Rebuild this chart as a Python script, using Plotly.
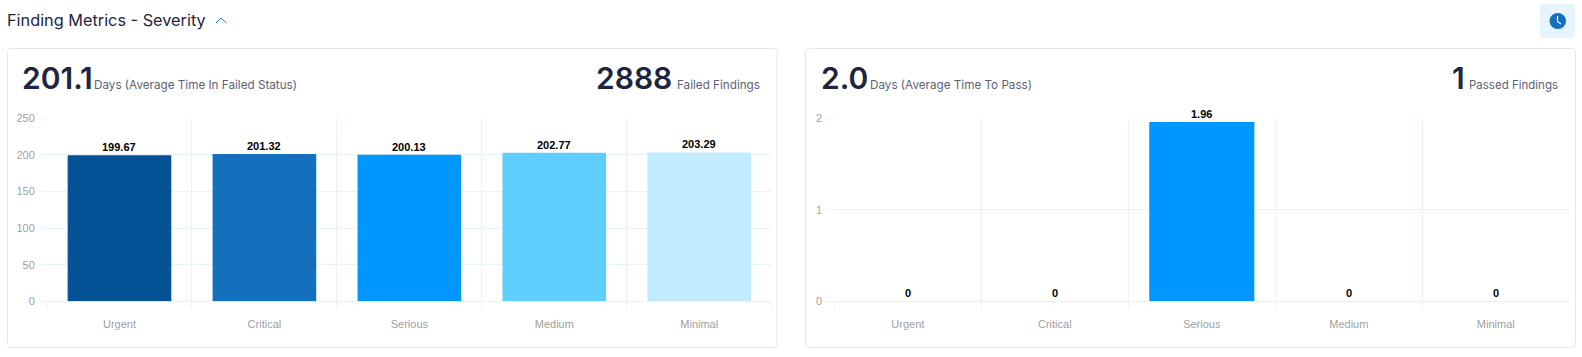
import plotly.graph_objects as go

W, H = 1582, 357
categories = ["Urgent", "Critical", "Serious", "Medium", "Minimal"]
failed_days = [199.67, 201.32, 200.13, 202.77, 203.29]
passed_days = [0, 0, 1.96, 0, 0]
colors = ["#055296", "#146fbd", "#0096ff", "#5fceff", "#c1ecff"]
GRID = "#e8f2fb"
TICK = "#a0a0a0"
DARK = "#1d2540"
SUB = "#5c6274"
HEAD = "Inter"
ARIAL = "Liberation Sans"

def px(x): return x / W
def py(y): return 1 - y / H

def fmt(v): return f"{v:g}"

fig = go.Figure()
fig.add_trace(go.Bar(x=categories, y=failed_days, marker=dict(color=colors, line=dict(width=0)),
                     xaxis="x", yaxis="y", showlegend=False))
fig.add_trace(go.Bar(x=categories, y=passed_days, marker=dict(color=colors, line=dict(width=0)),
                     xaxis="x2", yaxis="y2", showlegend=False))

def xax(a, b, anchor):
    return dict(domain=[px(a), px(b)], anchor=anchor, type="category", range=[-0.5, 4.5],
                tickson="boundaries", showgrid=True, gridcolor=GRID, gridwidth=1,
                ticks="outside", ticklen=7, tickcolor=GRID, tickwidth=1, showline=False,
                zeroline=False, ticklabelstandoff=15, automargin=False,
                tickfont=dict(family=ARIAL, size=11, color=TICK), fixedrange=True)

def yax(maxv, dtick, anchor):
    return dict(domain=[py(301.3), py(118.3)], anchor=anchor, range=[0, maxv], dtick=dtick,
                showgrid=True, gridcolor=GRID, gridwidth=1, ticks="outside", ticklen=7,
                tickcolor=GRID, tickwidth=1, showline=False, zeroline=True, zerolinecolor=GRID,
                zerolinewidth=1, ticklabelstandoff=2, automargin=False,
                tickfont=dict(family=ARIAL, size=11, color=TICK), fixedrange=True)

def rrect(x0, y0, x1, y1, r):
    P = lambda x, y: f"{px(x):.5f} {py(y):.5f}"
    return (f"M {P(x0+r,y0)} L {P(x1-r,y0)} Q {P(x1,y0)} {P(x1,y0+r)} L {P(x1,y1-r)} Q {P(x1,y1)} {P(x1-r,y1)} "
            f"L {P(x0+r,y1)} Q {P(x0,y1)} {P(x0,y1-r)} L {P(x0,y0+r)} Q {P(x0,y0)} {P(x0+r,y0)} Z")

shapes = []
for x0, x1 in [(7.5, 777), (805.5, 1575.5)]:
    shapes.append(dict(type="path", xref="paper", yref="paper", path=rrect(x0, 48.5, x1, 347.5, 4),
                       line=dict(color="#e4e7ee", width=1), fillcolor="#ffffff", layer="below"))
shapes.append(dict(type="path", xref="paper", yref="paper", path=rrect(1540, 4, 1575, 38, 4),
                   line=dict(width=0), fillcolor="#e6f4fe", layer="below"))
shapes.append(dict(type="circle", xref="paper", yref="paper", x0=px(1549.5), x1=px(1566), y0=py(29), y1=py(13),
                   line=dict(width=0), fillcolor="#146fbd"))
shapes.append(dict(type="path", xref="paper", yref="paper",
                   path=f"M {px(1557.5):.5f} {py(16):.5f} L {px(1557.5):.5f} {py(21.5):.5f} L {px(1561):.5f} {py(24):.5f}",
                   line=dict(color="#ffffff", width=1.2)))
shapes.append(dict(type="path", xref="paper", yref="paper",
                   path=f"M {px(216):.5f} {py(23):.5f} L {px(221):.5f} {py(18):.5f} L {px(226.5):.5f} {py(23):.5f}",
                   line=dict(color="#1a7fc8", width=1)))

def note(x, y, text, size, color, weight=400, anchor="left"):
    return dict(xref="paper", yref="paper", x=px(x), y=py(y), text=text, showarrow=False,
                xanchor=anchor, yanchor="middle", xshift=-2, align="left",
                font=dict(family=HEAD, size=size, color=color, weight=weight))

annotations = [
    note(7, 19.5, "Finding Metrics - Severity", 16.3, DARK),
    note(22, 78, "201.1", 30, DARK, 600),
    note(93.5, 85, "Days (Average Time In Failed Status)", 11.7, SUB),
    note(596, 78, "2888", 30, DARK, 600),
    note(677, 85, "Failed Findings", 11.7, SUB),
    note(821, 78, "2.0", 30, DARK, 600),
    note(870, 85, "Days (Average Time To Pass)", 11.7, SUB),
    note(1452, 78, "1", 30, DARK, 600),
    note(1469, 85, "Passed Findings", 11.5, SUB),
]

def value_labels(values, xref, yref):
    return [dict(xref=xref, yref=yref, x=c, y=v, text=f"<b>{fmt(v)}</b>", showarrow=False,
                 xanchor="center", yanchor="middle", yshift=8,
                 font=dict(family=ARIAL, size=11, color="#000000"))
            for c, v in zip(categories, values)]

annotations += value_labels(failed_days, "x", "y") + value_labels(passed_days, "x2", "y2")

fig.update_layout(
    width=W, height=H, autosize=False, margin=dict(l=0, r=0, t=0, b=0),
    paper_bgcolor="#ffffff", plot_bgcolor="rgba(0,0,0,0)", bargap=0.285,
    xaxis=xax(47, 771.7, "y"), yaxis=yax(250, 50, "x"),
    xaxis2=xax(834.3, 1569.3, "y2"), yaxis2=yax(2, 1, "x2"),
    shapes=shapes, annotations=annotations,
)

fig.write_html("out.html", config=dict(displayModeBar=False),
               post_script="document.body.style.margin='0';document.body.style.overflow='hidden';"
                           "var g=document.getElementById('{plot_id}');g.style.position='fixed';g.style.left='0';g.style.top='0';")
